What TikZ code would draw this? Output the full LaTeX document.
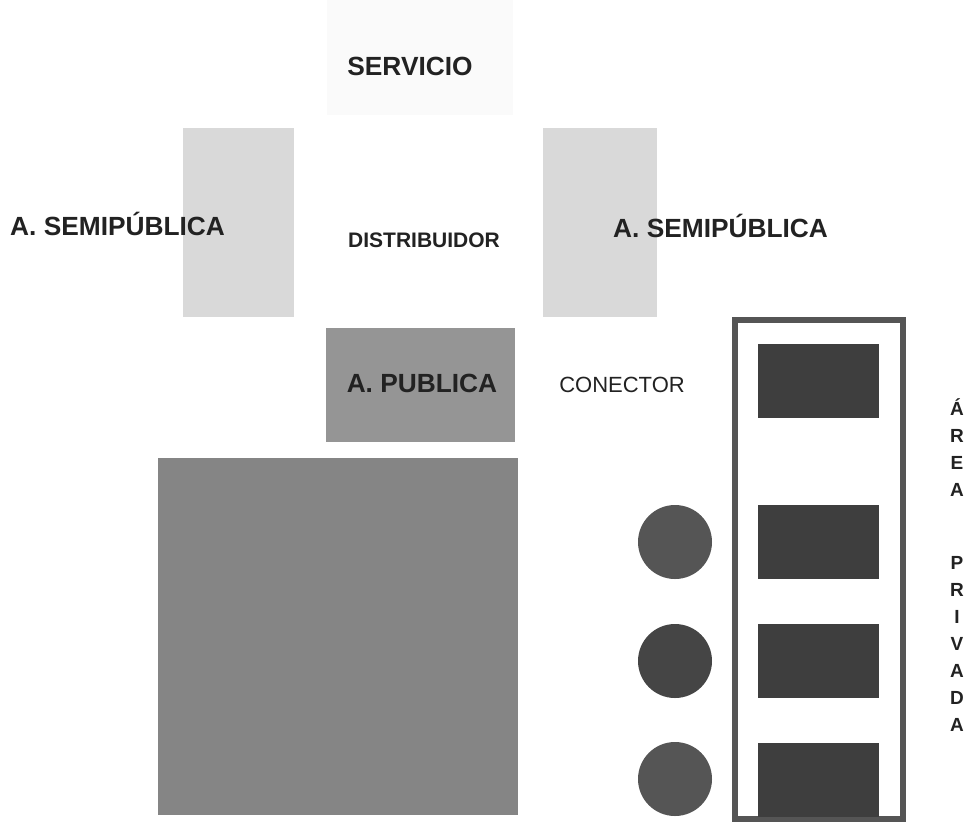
\documentclass[tikz,border=0pt]{standalone}
\usepackage{fontspec}
\setmainfont{Liberation Sans}
\definecolor{semigray}{HTML}{D9D9D9}
\definecolor{faintgray}{HTML}{FAFAFA}
\definecolor{pubgray}{HTML}{959595}
\definecolor{biggray}{HTML}{858585}
\definecolor{darkbox}{HTML}{3E3E3E}
\definecolor{circgray}{HTML}{555555}
\definecolor{circdark}{HTML}{454545}
\definecolor{framegray}{HTML}{555555}
\definecolor{txt}{HTML}{222222}
\begin{document}
\begin{tikzpicture}[x=1pt,y=-1pt,
  zone/.style={rectangle,inner sep=0pt,outer sep=0pt,draw=none},
  bigtxt/.style={inner sep=0pt,text=txt,font=\fontsize{26.3}{28}\selectfont\bfseries},
  midtxt/.style={inner sep=0pt,text=txt,font=\fontsize{21}{24}\selectfont\bfseries},
  regtxt/.style={inner sep=0pt,text=txt,font=\fontsize{22}{24}\selectfont},
  vlet/.style={inner sep=0pt,text=txt,anchor=base,font=\fontsize{19}{21}\selectfont\bfseries},
  darkrect/.style={zone,fill=darkbox,minimum width=121pt,minimum height=74pt},
  dot/.style={circle,inner sep=0pt,minimum size=74pt,fill=circgray}]
\useasboundingbox (0,0) rectangle (968,823);
% zones
\node[zone,fill=faintgray,minimum width=186pt,minimum height=115pt] (serv) at (420,57.5) {};
\node[zone,fill=semigray,minimum width=111pt,minimum height=189pt] (semiL) at (238.5,222.5) {};
\node[zone,fill=semigray,minimum width=114pt,minimum height=189pt] (semiR) at (600,222.5) {};
\node[zone,fill=pubgray,minimum width=189pt,minimum height=114pt] (pub) at (420.5,385) {};
\node[zone,fill=biggray,minimum width=360pt,minimum height=357pt] (big) at (338,636.5) {};
% private area
\node[zone,draw=framegray,line width=6pt,minimum width=168pt,minimum height=499pt] (frame) at (819,569.5) {};
\node[darkrect] (r1) at (818.5,380.5) {};
\node[darkrect] (r2) at (818.5,542) {};
\node[darkrect] (r3) at (818.5,661) {};
\node[darkrect] (r4) at (818.5,779.5) {};
\node[dot] (c1) at (675,542) {};
\node[dot,fill=circdark] (c2) at (675,661) {};
\node[dot] (c3) at (675,779) {};
% labels
\node[bigtxt,anchor=base] (tserv) at (410,75) {SERVICIO};
\node[bigtxt,anchor=base west] (tsemiL) at (10,235) {A. SEMIPÚBLICA};
\node[bigtxt,anchor=base west] (tsemiR) at (613,237) {A. SEMIPÚBLICA};
\node[midtxt,anchor=base] (tdist) at (424,247) {DISTRIBUIDOR};
\node[bigtxt,anchor=base] (tpub) at (422,392) {A. PUBLICA};
\node[regtxt,anchor=base] (tcon) at (622,392) {CONECTOR};
% vertical label
\node[vlet] (v1) at (957,415) {Á};
\node[vlet] (v2) at (957,442) {R};
\node[vlet] (v3) at (957,469) {E};
\node[vlet] (v4) at (957,496) {A};
\node[vlet] (v5) at (957,569) {P};
\node[vlet] (v6) at (957,596) {R};
\node[vlet] (v7) at (957,623) {I};
\node[vlet] (v8) at (957,650) {V};
\node[vlet] (v9) at (957,677) {A};
\node[vlet] (v10) at (957,704) {D};
\node[vlet] (v11) at (957,731) {A};
\end{tikzpicture}
\end{document}
